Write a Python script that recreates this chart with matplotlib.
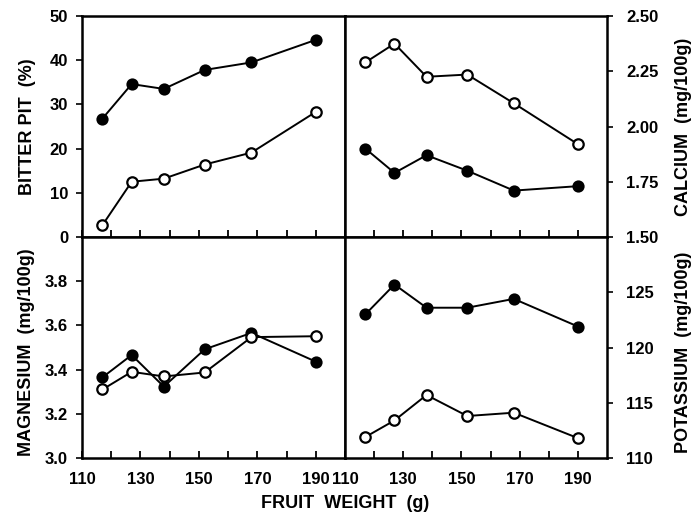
import matplotlib.pyplot as plt
import numpy as np

plt.rcParams['font.family'] = ['Liberation Sans', 'DejaVu Sans']
plt.rcParams['font.weight'] = 'bold'

# fruit weight classes (g)
weight = [117, 127, 138, 152, 168, 190]

# bitter pit (%)
pit_filled = [26.8, 34.6, 33.5, 37.8, 39.5, 44.6]
pit_open = [2.7, 12.5, 13.2, 16.4, 19.1, 28.3]

# calcium (mg/100g)
ca_filled = [1.90, 1.79, 1.87, 1.80, 1.71, 1.73]
ca_open = [2.29, 2.375, 2.225, 2.235, 2.105, 1.92]

# magnesium (mg/100g)
mg_filled = [3.365, 3.466, 3.323, 3.492, 3.566, 3.436]
mg_open = [3.310, 3.390, 3.369, 3.387, 3.547, 3.551]

# potassium (mg/100g)
k_filled = [123.0, 125.7, 123.6, 123.6, 124.4, 121.9]
k_open = [111.9, 113.4, 115.7, 113.8, 114.1, 111.8]

x_labels = [110, 130, 150, 170, 190]
x_minor = [120, 140, 160, 180]


def draw(ax, filled, opened):
    ax.plot(weight, filled, '-o', color='black', lw=1.4, ms=7.5,
            mfc='black', mec='black', mew=1.3, zorder=3)
    ax.plot(weight, opened, '-o', color='black', lw=1.4, ms=7.5,
            mfc='white', mec='black', mew=1.6, zorder=3)
    ax.set_xlim(110, 200)
    ax.set_xticks(x_labels)
    ax.set_xticks(x_minor, minor=True)
    ax.tick_params(axis='x', which='both', direction='in', length=5,
                   width=1.3, labelbottom=False)
    for s in ax.spines.values():
        s.set_linewidth(1.8)


fig = plt.figure(figsize=(6.98, 5.24), dpi=100)
L, R, B, T = 82 / 698, 607 / 698, 1 - 458 / 524, 1 - 16 / 524
M = 345 / 698
H = (T - B) / 2
W1 = M - L
W2 = R - M

ax_pit = fig.add_axes([L, B + H, W1, H])
ax_ca = fig.add_axes([M, B + H, W2, H])
ax_mg = fig.add_axes([L, B, W1, H])
ax_k = fig.add_axes([M, B, W2, H])

draw(ax_pit, pit_filled, pit_open)
draw(ax_ca, ca_filled, ca_open)
draw(ax_mg, mg_filled, mg_open)
draw(ax_k, k_filled, k_open)

tick_font = dict(fontsize=12, fontweight='bold')

ax_pit.set_ylim(0, 50)
ax_pit.set_yticks([0, 10, 20, 30, 40, 50])
ax_pit.set_yticklabels(['0', '10', '20', '30', '40', '50'], **tick_font)

ax_ca.set_ylim(1.5, 2.5)
ax_ca.set_yticks([1.5, 1.75, 2.0, 2.25, 2.5])
ax_ca.set_yticklabels(['1.50', '1.75', '2.00', '2.25', '2.50'], **tick_font)
ax_ca.yaxis.tick_right()

ax_mg.set_ylim(3.0, 4.0)
ax_mg.set_yticks([3.0, 3.2, 3.4, 3.6, 3.8])
ax_mg.set_yticklabels(['3.0', '3.2', '3.4', '3.6', '3.8'], **tick_font)

ax_k.set_ylim(110, 130)
ax_k.set_yticks([110, 115, 120, 125])
ax_k.set_yticklabels(['110', '115', '120', '125'], **tick_font)
ax_k.yaxis.tick_right()

for ax in (ax_pit, ax_mg):
    ax.tick_params(axis='y', direction='out', length=4, width=1.2, pad=6)
for ax in (ax_ca, ax_k):
    ax.tick_params(axis='y', direction='out', length=4, width=1.2, pad=10)

for ax in (ax_mg, ax_k):
    ax.set_xticklabels([str(v) for v in x_labels], **tick_font)
    ax.tick_params(axis='x', which='major', labelbottom=True, pad=10)

lab = dict(fontsize=13, fontweight='bold')
fig.text(27 / 698, 1 - 127 / 524, 'BITTER PIT  (%)', rotation=90,
         ha='center', va='center', **lab)
fig.text(27 / 698, 1 - 352 / 524, 'MAGNESIUM  (mg/100g)', rotation=90,
         ha='center', va='center', **lab)
fig.text(683 / 698, 1 - 127 / 524, 'CALCIUM  (mg/100g)', rotation=90,
         ha='center', va='center', **lab)
fig.text(683 / 698, 1 - 352 / 524, 'POTASSIUM  (mg/100g)', rotation=90,
         ha='center', va='center', **lab)
fig.text(345 / 698, 1 - 503 / 524, 'FRUIT  WEIGHT  (g)',
         ha='center', va='center', **lab)

fig.savefig('out.png', dpi=100)
